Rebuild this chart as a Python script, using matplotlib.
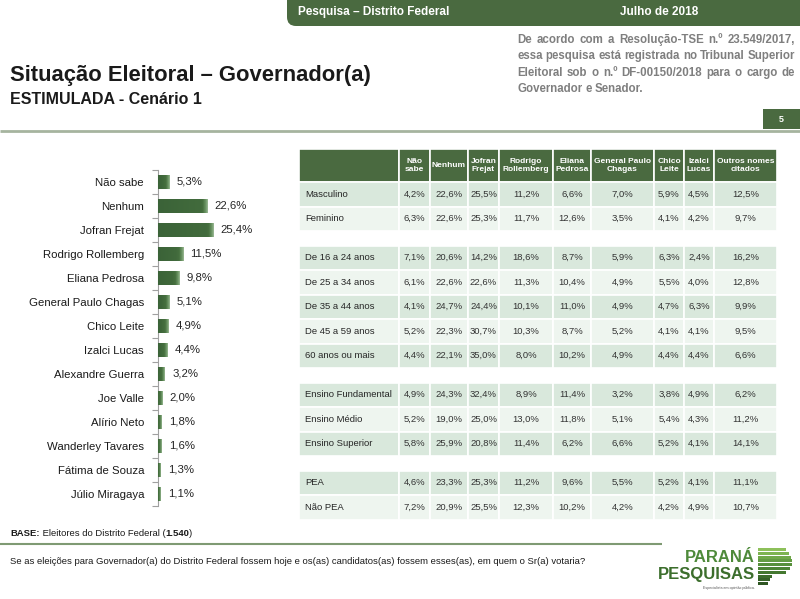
import matplotlib
matplotlib.use("Agg")
import matplotlib.pyplot as plt
import numpy as np
from matplotlib.patches import Rectangle, FancyBboxPatch
from matplotlib.colors import LinearSegmentedColormap

# ---- data ----
candidates = ["Não sabe", "Nenhum", "Jofran Frejat", "Rodrigo Rollemberg", "Eliana Pedrosa",
              "General Paulo Chagas", "Chico Leite", "Izalci Lucas", "Alexandre Guerra",
              "Joe Valle", "Alírio Neto", "Wanderley Tavares", "Fátima de Souza", "Júlio Miragaya"]
votes = [5.3, 22.6, 25.4, 11.5, 9.8, 5.1, 4.9, 4.4, 3.2, 2.0, 1.8, 1.6, 1.3, 1.1]

table_cols = ["Não\nsabe", "Nenhum", "Jofran\nFrejat", "Rodrigo\nRollemberg", "Eliana\nPedrosa",
              "General Paulo\nChagas", "Chico\nLeite", "Izalci\nLucas", "Outros nomes\ncitados"]

sexo_rows = ["Masculino", "Feminino"]
sexo_vals = [[4.2, 22.6, 25.5, 11.2, 6.6, 7.0, 5.9, 4.5, 12.5],
             [6.3, 22.6, 25.3, 11.7, 12.6, 3.5, 4.1, 4.2, 9.7]]

idade_rows = ["De 16 a 24 anos", "De 25 a 34 anos", "De 35 a 44 anos", "De 45 a 59 anos", "60 anos ou mais"]
idade_vals = [[7.1, 20.6, 14.2, 18.6, 8.7, 5.9, 6.3, 2.4, 16.2],
              [6.1, 22.6, 22.6, 11.3, 10.4, 4.9, 5.5, 4.0, 12.8],
              [4.1, 24.7, 24.4, 10.1, 11.0, 4.9, 4.7, 6.3, 9.9],
              [5.2, 22.3, 30.7, 10.3, 8.7, 5.2, 4.1, 4.1, 9.5],
              [4.4, 22.1, 35.0, 8.0, 10.2, 4.9, 4.4, 4.4, 6.6]]

escol_rows = ["Ensino Fundamental", "Ensino Médio", "Ensino Superior"]
escol_vals = [[4.9, 24.3, 32.4, 8.9, 11.4, 3.2, 3.8, 4.9, 6.2],
              [5.2, 19.0, 25.0, 13.0, 11.8, 5.1, 5.4, 4.3, 11.2],
              [5.8, 25.9, 20.8, 11.4, 6.2, 6.6, 5.2, 4.1, 14.1]]

pea_rows = ["PEA", "Não PEA"]
pea_vals = [[4.6, 23.3, 25.3, 11.2, 9.6, 5.5, 5.2, 4.1, 11.1],
            [7.2, 20.9, 25.5, 12.3, 10.2, 4.2, 4.2, 4.9, 10.7]]

groups = [(sexo_rows, sexo_vals), (idade_rows, idade_vals),
          (escol_rows, escol_vals), (pea_rows, pea_vals)]

# ---- style ----
GREEN = "#4a6a40"
NARROW = ["Liberation Sans Narrow", "Liberation Sans", "DejaVu Sans"]
SANS = ["Liberation Sans", "DejaVu Sans"]
plt.rcParams["font.family"] = SANS


def fmt(v):
    return f"{v:.1f}".replace(".", ",") + "%"


W, H = 800, 599
fig = plt.figure(figsize=(8, 5.99), dpi=100)
fig.patch.set_facecolor("white")


def px_rect(x0, y0, x1, y1):
    return [x0 / W, 1 - y1 / H, (x1 - x0) / W, (y1 - y0) / H]


bg = fig.add_axes([0, 0, 1, 1])
bg.set_xlim(0, W)
bg.set_ylim(H, 0)
bg.axis("off")
renderer = fig.canvas.get_renderer()


def text_width(t):
    return t.get_window_extent(renderer=renderer).width


def measure(s, **kw):
    t = bg.text(10, 10, s, **kw)
    w = text_width(t)
    t.remove()
    return w


def justify(line, x0, x1, y, last=False, **kw):
    words = line.split()
    ts = [bg.text(x0, y, w, va="center", ha="left", **kw) for w in words]
    widths = [text_width(t) for t in ts]
    if last or len(words) == 1:
        gap = measure("a a", **kw) - measure("aa", **kw)
    else:
        gap = (x1 - x0 - sum(widths)) / (len(words) - 1)
    x = x0
    for t, w in zip(ts, widths):
        t.set_x(x)
        x += w + gap


def pieces(x, y, parts, **kw):
    for s, wt in parts:
        t = bg.text(x, y, s, va="center", ha="left", fontweight=wt, **kw)
        x += text_width(t)


# ---- header band ----
bg.add_patch(FancyBboxPatch((287, -20), 540, 46, boxstyle="round,pad=0,rounding_size=9",
                            fc=GREEN, ec="none"))
bg.text(298, 12, "Pesquisa – Distrito Federal", color="white", fontsize=8.5,
        fontweight="bold", family=NARROW, va="center")
bg.text(620, 12, "Julho de 2018", color="white", fontsize=8.5,
        fontweight="bold", family=NARROW, va="center")

# ---- titles ----
bg.text(10, 75, "Situação Eleitoral – Governador(a)", fontsize=15.8, fontweight="bold",
        family=NARROW, color="#1a1a1a", va="center")
bg.text(10, 100, "ESTIMULADA - Cenário 1", fontsize=11.5, fontweight="bold",
        family=NARROW, color="#1a1a1a", va="center")

note = ["De acordo com a Resolução-TSE n.º 23.549/2017,",
        "essa pesquisa está registrada no Tribunal Superior",
        "Eleitoral sob o n.º DF-00150/2018 para o cargo de",
        "Governador e Senador."]
for i, ln in enumerate(note):
    justify(ln, 517, 795, 40 + i * 16.3, last=(i == len(note) - 1),
            fontsize=8.3, fontweight="bold", family=NARROW, color="#7f7f7f")

# page number + rule
bg.add_patch(Rectangle((763, 109), 40, 20, fc=GREEN, ec="none"))
bg.text(781, 119, "5", color="white", fontsize=6.5, fontweight="bold", ha="center", va="center")
bg.plot([0, 800], [131, 131], color="#a6b49f", lw=2, solid_capstyle="butt")

# ---- bar chart ----
ax = fig.add_axes(px_rect(158, 170, 245, 506))
ypos = np.arange(len(candidates))
bars = ax.barh(ypos, votes, height=0.6, color="#3f673b", zorder=2)
cmap = LinearSegmentedColormap.from_list(
    "g", [(0, "#3b6338"), (0.55, "#46703f"), (0.8, "#6f9868"), (1, "#a9c4a3")])
fade = 3.5  # width of the lighter tip, in % units
for b in bars:
    x0, y0, w = b.get_x(), b.get_y(), b.get_width()
    xs = np.linspace(x0, x0 + w, 200)
    t = np.clip((xs - (x0 + w - fade)) / fade, 0, 1) * 0.55 + 0.45 * (xs - x0) / max(w, 1e-6) * 0.9
    im = ax.imshow(t.reshape(1, -1), cmap=cmap, vmin=0, vmax=1, aspect="auto", zorder=3,
                   extent=(x0, x0 + w, y0, y0 + b.get_height()))
    im.set_clip_path(b)
for y, v in zip(ypos, votes):
    ax.text(v + 3.4, y, fmt(v), va="center", ha="left", fontsize=8.2, color="#262626")
ax.set_xlim(0, 40)
ax.set_ylim(len(candidates) - 0.5, -0.5)
ax.set_yticks(ypos)
ax.set_yticklabels(candidates, fontsize=8.2, color="#1a1a1a")
ax.tick_params(axis="y", which="major", length=0, pad=10)
ax.set_yticks(np.arange(-0.5, len(candidates)), minor=True)
ax.tick_params(axis="y", which="minor", length=4, color="#a0a0a0", width=0.8)
ax.set_xticks([])
for s in ["top", "right", "bottom"]:
    ax.spines[s].set_visible(False)
ax.spines["left"].set_color("#a0a0a0")
ax.spines["left"].set_linewidth(0.8)
ax.patch.set_alpha(0)

# ---- table ----
col_edges = [299, 399, 430, 468, 499, 553, 591, 654, 684, 714, 777]
tab_top, head_h, row_h, gap_h = 149, 33, 24.5, 14.5
DARK, LIGHT = "#d9e8dc", "#eef5ef"

for j in range(len(col_edges) - 1):
    bg.add_patch(Rectangle((col_edges[j], tab_top), col_edges[j + 1] - col_edges[j], head_h,
                           fc=GREEN, ec="white", lw=1.2))
for j, name in enumerate(table_cols):
    cx = (col_edges[j + 1] + col_edges[j + 2]) / 2
    bg.text(cx, tab_top + head_h / 2, name, color="white", fontsize=6.0, fontweight="bold",
            ha="center", va="center", linespacing=1.1)

y = tab_top + head_h
for gi, (rows, vals) in enumerate(groups):
    if gi > 0:
        y += gap_h
    for ri, (rname, rvals) in enumerate(zip(rows, vals)):
        fc = DARK if ri % 2 == 0 else LIGHT
        for j in range(len(col_edges) - 1):
            bg.add_patch(Rectangle((col_edges[j], y), col_edges[j + 1] - col_edges[j], row_h,
                                   fc=fc, ec="white", lw=1.2))
        cy = y + row_h / 2
        bg.text(305, cy, rname, fontsize=6.8, color="#262626", ha="left", va="center")
        for j, v in enumerate(rvals):
            cx = (col_edges[j + 1] + col_edges[j + 2]) / 2
            bg.text(cx, cy, fmt(v), fontsize=6.8, color="#333333", ha="center", va="center")
        y += row_h

# ---- footer ----
pieces(10, 534, [("BASE:", "bold"), (" Eleitores do Distrito Federal (", "normal"),
                 ("1.540", "bold"), (")", "normal")],
       fontsize=6.8, family=NARROW, color="#1a1a1a")
bg.plot([0, 662], [544, 544], color="#7f9a73", lw=1.5, solid_capstyle="butt")
bg.text(10, 561, "Se as eleições para Governador(a) do Distrito Federal fossem hoje e os(as) "
        "candidatos(as) fossem esses(as), em quem o Sr(a) votaria?",
        fontsize=6.8, family=NARROW, color="#1a1a1a", va="center")

# logo
bg.text(755, 557, "PARANÁ", fontsize=12, fontweight="bold", family=NARROW,
        color="#4e8a3a", ha="right", va="center")
bg.text(755, 574, "PESQUISAS", fontsize=12, fontweight="bold", family=NARROW,
        color="#3c6e2c", ha="right", va="center")
bg.text(755, 588, "Especialista em opinião pública.", fontsize=2.6, color="#555555",
        ha="right", va="center")
stripe_len = [28, 31, 33, 34, 34, 32, 28, 14, 12, 10]
stripe_col = ["#8dc05a", "#7eb451", "#70a849", "#639c42", "#57903b", "#4d8435",
              "#447830", "#3c6c2b", "#356127", "#2f5623"]
for k, (ln, c) in enumerate(zip(stripe_len, stripe_col)):
    bg.add_patch(Rectangle((758, 548 + k * 3.8), ln, 2.9, fc=c, ec="none"))

fig.savefig("out.png", dpi=100, facecolor="white")
